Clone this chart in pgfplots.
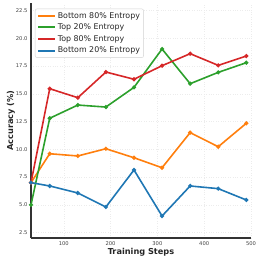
\documentclass[border=0pt]{standalone}
\usepackage{fontspec}
\setmainfont{DejaVu Sans}
\usepackage{pgfplots}
\pgfplotsset{compat=1.18}
\definecolor{tabblue}{HTML}{1F77B4}
\definecolor{taborange}{HTML}{FF7F0E}
\definecolor{tabgreen}{HTML}{2CA02C}
\definecolor{tabred}{HTML}{D62728}
\definecolor{spine}{HTML}{333333}
\begin{document}
\begin{tikzpicture}
\useasboundingbox (-31pt,-24pt) rectangle (231pt,238pt);
\begin{axis}[
  anchor=south west, at={(0pt,0pt)},
  scale only axis, width=220pt, height=235pt,
  xmin=30, xmax=500, ymin=2.02, ymax=23.16,
  axis x line*=bottom, axis y line*=left,
  axis line style={spine, line width=1.1pt, -},
  xtick={100,200,300,400,500},
  ytick={2.5,5,7.5,10,12.5,15,17.5,20,22.5},
  yticklabel style={/pgf/number format/fixed, /pgf/number format/fixed zerofill, /pgf/number format/precision=1},
  /pgf/number format/assume math mode=true,
  major tick length=0pt,
  grid=major,
  grid style={dotted, gray!15, line width=0.4pt},
  tick label style={font=\fontsize{5.2}{6}\selectfont, text=black!75},
  xticklabel style={anchor=north, inner sep=0pt, yshift=-3.3pt},
  yticklabel style={anchor=east, inner sep=0pt, xshift=-3.3pt},
  xlabel={\bfseries Training Steps},
  ylabel={\bfseries Accuracy (\%)},
  label style={font=\fontsize{8.2}{9}\selectfont, text=black!85},
  xlabel style={at={(axis description cs:0.5,-0.0425)}, anchor=north, inner sep=0pt},
  ylabel style={at={(axis description cs:-0.0909,0.5)}, anchor=center, inner sep=0pt},
  legend style={at={(axis description cs:0.018,0.976)}, anchor=north west,
    draw=gray!35, rounded corners=2pt, fill=white, fill opacity=0.85, text opacity=1,
    font=\fontsize{7.9}{9}\selectfont, text=black!85,
    inner xsep=2pt, inner ysep=1.2pt, row sep=0pt,
    nodes={inner sep=1.6pt, text height=6.4pt, text depth=2.0pt},
    cells={anchor=west}},
  legend image code/.code={\draw[#1, line width=2pt] (0pt,0pt) -- (17pt,0pt);},
  every axis plot/.append style={line width=1.6pt, mark=*, mark size=1.2pt},
]
\addplot[taborange, mark options={fill=taborange}] coordinates {
(30,7.0) (70,9.6) (130,9.4) (190,10.05) (250,9.24) (310,8.34) (370,11.5) (430,10.23) (490,12.34)};
\addlegendentry{Bottom 80\% Entropy}
\addplot[tabgreen, mark options={fill=tabgreen}] coordinates {
(30,5.0) (70,12.79) (130,13.98) (190,13.8) (250,15.57) (310,19.02) (370,15.9) (430,16.92) (490,17.79)};
\addlegendentry{Top 20\% Entropy}
\addplot[tabred, mark options={fill=tabred}] coordinates {
(30,7.0) (70,15.45) (130,14.64) (190,16.95) (250,16.3) (310,17.52) (370,18.6) (430,17.55) (490,18.39)};
\addlegendentry{Top 80\% Entropy}
\addplot[tabblue, mark options={fill=tabblue}] coordinates {
(30,7.0) (70,6.7) (130,6.07) (190,4.81) (250,8.14) (310,4.0) (370,6.7) (430,6.46) (490,5.44)};
\addlegendentry{Bottom 20\% Entropy}
\end{axis}
\end{tikzpicture}
\end{document}
